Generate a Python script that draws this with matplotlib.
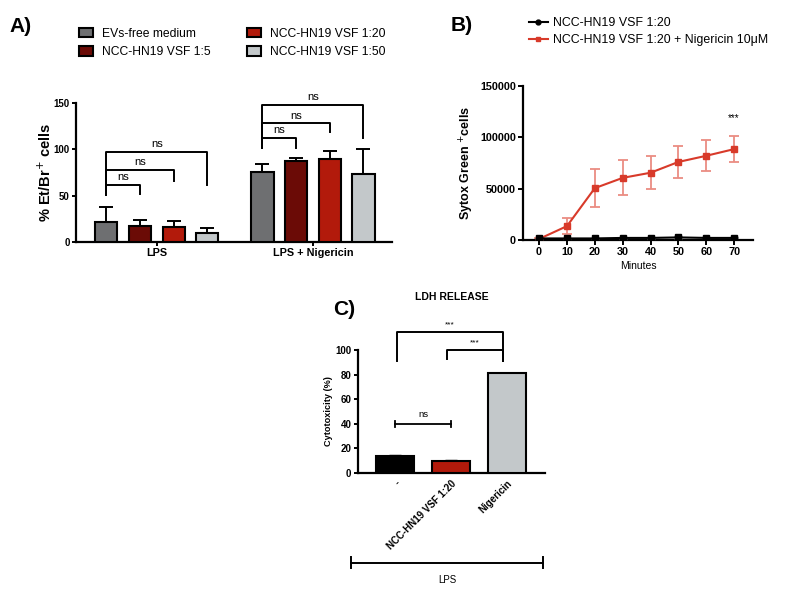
import numpy as np
import matplotlib
matplotlib.use('Agg')
import matplotlib.pyplot as plt
from matplotlib.patches import Patch
from matplotlib.lines import Line2D

plt.rcParams['font.family'] = ['Liberation Sans', 'DejaVu Sans']
plt.rcParams['axes.linewidth'] = 1.6

# ---- data: panel A (% Et/Br+ cells)
groups = ['LPS', 'LPS + Nigericin']
treatments = ['EVs-free medium', 'NCC-HN19 VSF 1:5', 'NCC-HN19 VSF 1:20', 'NCC-HN19 VSF 1:50']
colors_a = ['#6e6f71', '#6b0b06', '#b21a0b', '#c3c8ca']
lps_mean = [22, 17.5, 16, 10]
lps_err = [16, 6.5, 7, 5.5]
nig_mean = [75, 87, 90, 73.5]
nig_err = [9, 4, 8, 26.5]
# ns brackets (height, right leg end) per group
lps_br_y = [62, 78, 97.5]
lps_br_end = [52, 66, 61]
nig_br_y = [112, 128, 148]
nig_br_end = [101, 119, 112]

# ---- data: panel B (Sytox Green+ cells)
minutes = [0, 10, 20, 30, 40, 50, 60, 70]
vsf = [1500, 1500, 1500, 2000, 2000, 2500, 2000, 2000]
vsf_err = [300, 500, 500, 700, 600, 1500, 500, 500]
vsf_nig = [1000, 13500, 50500, 60500, 65500, 76000, 82000, 88500]
vsf_nig_err = [500, 7500, 18500, 17000, 16000, 16000, 15000, 12800]

# ---- data: panel C (LDH release)
ldh_labels = ['-', 'NCC-HN19 VSF 1:20', 'Nigericin']
ldh = [14, 9.5, 81]
ldh_err = [0.5, 0.5, 0.5]
colors_c = ['#000000', '#b21a0b', '#c3c8ca']

fig = plt.figure(figsize=(7.87, 5.98), dpi=100)


def style(ax, fs=7, length=3.5):
    ax.spines['top'].set_visible(False)
    ax.spines['right'].set_visible(False)
    ax.tick_params(width=1.4, length=length, labelsize=fs, pad=1.5)
    for lab in ax.get_xticklabels() + ax.get_yticklabels():
        lab.set_fontweight('bold')


def bracket(ax, x0, x1, y, y0, y1, text, fs=8, dy=3):
    ax.plot([x0, x0, x1, x1], [y0, y, y, y1], color='k', lw=1.4, clip_on=False)
    ax.text((x0 + x1) / 2, y + dy, text, ha='center', va='bottom', fontsize=fs)


# ================= panel A
axA = fig.add_axes([0.0966, 0.5953, 0.4015, 0.2325])
pos1 = np.arange(4)
pos2 = np.arange(4) + 4.64
for i in range(4):
    axA.bar([pos1[i], pos2[i]], [lps_mean[i], nig_mean[i]], width=0.66,
            color=colors_a[i], edgecolor='k', linewidth=1.5, zorder=3)
    axA.errorbar([pos1[i], pos2[i]], [lps_mean[i], nig_mean[i]],
                 yerr=[[0, 0], [lps_err[i], nig_err[i]]], fmt='none',
                 ecolor='k', elinewidth=1.4, capsize=5, capthick=1.4, zorder=2)
axA.set_xlim(-0.9, 8.49)
axA.set_ylim(0, 150)
axA.set_yticks([0, 50, 100, 150])
axA.set_xticks([pos1.mean(), pos2.mean()])
axA.set_xticklabels(groups)
axA.set_ylabel('% Et/Br$^{+}$ cells', fontsize=10.5, fontweight='bold', labelpad=0)
style(axA, 7, 3)
for lab in axA.get_xticklabels():
    lab.set_fontsize(7.8)
for k in range(3):
    bracket(axA, pos1[0], pos1[k + 1], lps_br_y[k], 51, lps_br_end[k], 'ns')
    bracket(axA, pos2[0], pos2[k + 1], nig_br_y[k], 101, nig_br_end[k], 'ns')

handles = [Patch(facecolor=c, edgecolor='k', linewidth=1.5) for c in colors_a]
fig.legend(handles, treatments, loc='upper left', bbox_to_anchor=(0.094, 0.962),
           ncol=2, frameon=False, fontsize=8.7, handlelength=1.15, handleheight=0.8,
           columnspacing=3.0, handletextpad=0.75, labelspacing=0.55, borderaxespad=0)
fig.text(0.012, 0.955, 'A)', fontsize=15, fontweight='bold', va='center')

# ================= panel B
axB = fig.add_axes([0.6645, 0.5987, 0.2923, 0.2575])
red = '#d83a2a'
axB.errorbar(minutes, vsf_nig, yerr=vsf_nig_err, fmt='none', ecolor='#ea8c82',
             elinewidth=1.3, capsize=3.5, capthick=1.3, zorder=2)
axB.plot(minutes, vsf_nig, color=red, marker='s', ms=5, lw=1.5, zorder=3)
axB.errorbar(minutes, vsf, yerr=vsf_err, fmt='none', ecolor='#555555',
             elinewidth=1.2, capsize=3, zorder=4)
axB.plot(minutes, vsf, color='k', marker='s', ms=4.5, lw=1.5, zorder=5)
axB.set_xlim(-5.8, 76.8)
axB.set_ylim(0, 150000)
axB.set_xticks(minutes)
axB.set_yticks([0, 50000, 100000, 150000])
axB.set_xlabel('Minutes', fontsize=7.5, labelpad=3)
axB.set_ylabel('Sytox Green $^{+}$cells', fontsize=9, fontweight='bold', labelpad=3)
style(axB, 7.8, 3.5)
axB.text(70, 114000, '***', ha='center', va='bottom', fontsize=7)

hB = [Line2D([], [], color='k', marker='o', ms=3.5, lw=1.5),
      Line2D([], [], color=red, marker='s', ms=3.5, lw=1.5)]
fig.legend(hB, ['NCC-HN19 VSF 1:20', 'NCC-HN19 VSF 1:20 + Nigericin 10\u03bcM'],
           loc='upper left', bbox_to_anchor=(0.666, 0.980), frameon=False,
           fontsize=8.9, handlelength=1.5, handletextpad=0.45, labelspacing=0.45,
           borderaxespad=0)
fig.text(0.572, 0.958, 'B)', fontsize=15, fontweight='bold', va='center')

# ================= panel C
axC = fig.add_axes([0.4545, 0.2095, 0.238, 0.2052])
xc = np.arange(3)
axC.bar(xc, ldh, width=0.68, color=colors_c, edgecolor='k', linewidth=1.5, zorder=3)
axC.errorbar(xc, ldh, yerr=[[0, 0, 0], ldh_err], fmt='none', ecolor='k',
             elinewidth=1.2, capsize=4, zorder=2)
axC.set_xlim(-0.67, 2.68)
axC.set_ylim(0, 100)
axC.set_yticks([0, 20, 40, 60, 80, 100])
axC.set_xticks(xc)
axC.set_xticklabels(ldh_labels, rotation=45, ha='right', rotation_mode='anchor')
axC.set_ylabel('Cytotoxicity (%)', fontsize=6.6, fontweight='bold', labelpad=2)
style(axC, 7, 3)
axC.tick_params(axis='x', length=0, pad=4)

# ns comparison
axC.plot([0, 1], [40, 40], color='k', lw=1.3)
axC.plot([0, 0], [37.5, 42.5], color='k', lw=1.3)
axC.plot([1, 1], [37.5, 42.5], color='k', lw=1.3)
axC.text(0.5, 43.5, 'ns', ha='center', va='bottom', fontsize=6.8)
bracket(axC, 0.03, 1.93, 114.4, 91.3, 91.3, '***', fs=6, dy=3)
bracket(axC, 0.92, 1.93, 100, 93, 91.3, '***', fs=6, dy=3)

axC.set_title('LDH RELEASE', fontsize=7.5, fontweight='bold', pad=36)
fig.text(0.423, 0.482, 'C)', fontsize=15, fontweight='bold', va='center')

# LPS line under panel C
y_l = 0.059
fig.add_artist(Line2D([0.4456, 0.6904], [y_l, y_l], color='k', lw=1.4))
fig.add_artist(Line2D([0.4456, 0.4456], [y_l - 0.009, y_l + 0.009], color='k', lw=1.4))
fig.add_artist(Line2D([0.6904, 0.6904], [y_l - 0.009, y_l + 0.009], color='k', lw=1.4))
fig.text(0.568, 0.030, 'LPS', ha='center', va='center', fontsize=7)

fig.savefig('out.png', dpi=100)
